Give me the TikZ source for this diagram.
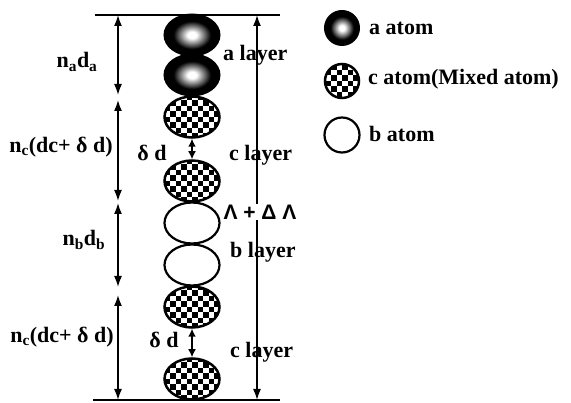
\documentclass[tikz,border=0pt]{standalone}
\usepackage{fontspec}
\setmainfont{Liberation Serif}
\setsansfont{Liberation Sans}
\usetikzlibrary{shapes.geometric, arrows.meta}

\pgfdeclareradialshading{atomglow}{\pgfpointorigin}{color(0bp)=(white); color(4bp)=(white); color(17bp)=(black); color(50bp)=(black)}

\tikzset{
	atom/.style={ellipse, inner sep=0pt, minimum width=55pt, minimum height=41pt, line width=2pt, draw=black},
	aatom/.style={atom, shade, shading=atomglow},
	batom/.style={atom, line width=2.2pt, fill=white},
	catom/.style={atom, line width=2.5pt, fill=black, path picture={
		\begin{scope}[shift={(path picture bounding box.center)}]
		\foreach \i in {-6,...,5} {
			\foreach \j in {-5,...,4} {
				\pgfmathtruncatemacro\chk{mod(\i+\j+20,2)}
				\ifnum\chk=0
					\fill[white] (\i*5.5,\j*5.5) rectangle ++(5.5,5.5);
				\fi
			}
		}
		\end{scope}
	}},
	lbl/.style={font=\fontsize{22}{26}\selectfont\bfseries, inner sep=1pt},
	dim/.style={line width=1.6pt, >={Latex[length=11pt,width=8pt]}, <->},
	rule/.style={line width=1.8pt}
}

\begin{document}
\begin{tikzpicture}[x=1pt, y=-1pt]
				\useasboundingbox (0,0) rectangle (571,403);
				%Top and bottom lines
				\coordinate (topL) at (95,15);
				\coordinate (topR) at (280,15);
				\coordinate (botL) at (93,400);
				\coordinate (botR) at (280,400);
				\draw[rule] (topL) -- (topR);
				\draw[rule] (botL) -- (botR);
				%The column of atoms
				\node[aatom] (a1) at (192,35) {};
				\node[aatom] (a2) at (192,75) {};
				\node[catom] (c1) at (192,117) {};
				\node[catom] (c2) at (192,181) {};
				\node[batom] (b1) at (192,223) {};
				\node[batom] (b2) at (192,265) {};
				\node[catom] (c3) at (192,307) {};
				\node[catom] (c4) at (192,379) {};
				%Spacing between the mixed atoms
				\draw[dim, >={Latex[length=8pt,width=8pt]}] (c1.south) -- (c2.north);
				\draw[dim, >={Latex[length=8pt,width=8pt]}] (c3.south) -- (c4.north);
				\node[lbl] (dd1) at (152,153) {δ d};
				\node[lbl] (dd2) at (164,340) {δ d};
				%Thickness arrows on the left
				\coordinate (l0) at (118,15);
				\coordinate (l1) at (118,95);
				\coordinate (l2) at (118,100);
				\coordinate (l3) at (118,201);
				\coordinate (l4) at (118,203);
				\coordinate (l5) at (118,287);
				\coordinate (l6) at (118,295);
				\coordinate (l7) at (118,400);
				\draw[dim] (l0) -- (l1);
				\draw[dim] (l2) -- (l3);
				\draw[dim] (l4) -- (l5);
				\draw[dim] (l6) -- (l7);
				\node[lbl] (na) at (77,62) {n\textsubscript{a}d\textsubscript{a}};
				\node[lbl] (nc1) at (61,147) {n\textsubscript{c}(dc+ δ d)};
				\node[lbl] (nb) at (84,240) {n\textsubscript{b}d\textsubscript{b}};
				\node[lbl] (nc2) at (62,337) {n\textsubscript{c}(dc+ δ d)};
				%Period arrow on the right
				\coordinate (rTop) at (257,15);
				\coordinate (rBot) at (257,400);
				\node[lbl, font=\fontsize{21}{25}\selectfont\bfseries\sffamily] (lam) at (260,212) {Λ + Δ Λ};
				\draw[dim, <-] (rTop) -- (lam.north -| rTop);
				\draw[dim, ->] (lam.south -| rTop) -- (rBot);
				%Layer names
				\node[lbl, anchor=west] (la) at (222,55) {a layer};
				\node[lbl, anchor=west] (lc1) at (228,155) {c layer};
				\node[lbl, anchor=west] (lb) at (229,252) {b layer};
				\node[lbl, anchor=west] (lc2) at (229,352) {c layer};
				%Legend
				\node[aatom, minimum width=34pt, minimum height=34pt] (ka) at (342,28) {};
				\node[catom, minimum width=34pt, minimum height=34pt] (kc) at (342,81) {};
				\node[batom, minimum width=35pt, minimum height=35pt] (kb) at (342,135) {};
				\node[lbl, anchor=west] (ta) at (368,28) {a atom};
				\node[lbl, anchor=west] (tc) at (367,79) {c atom(Mixed atom)};
				\node[lbl, anchor=west] (tb) at (368,134) {b atom};
\end{tikzpicture}
\end{document}
